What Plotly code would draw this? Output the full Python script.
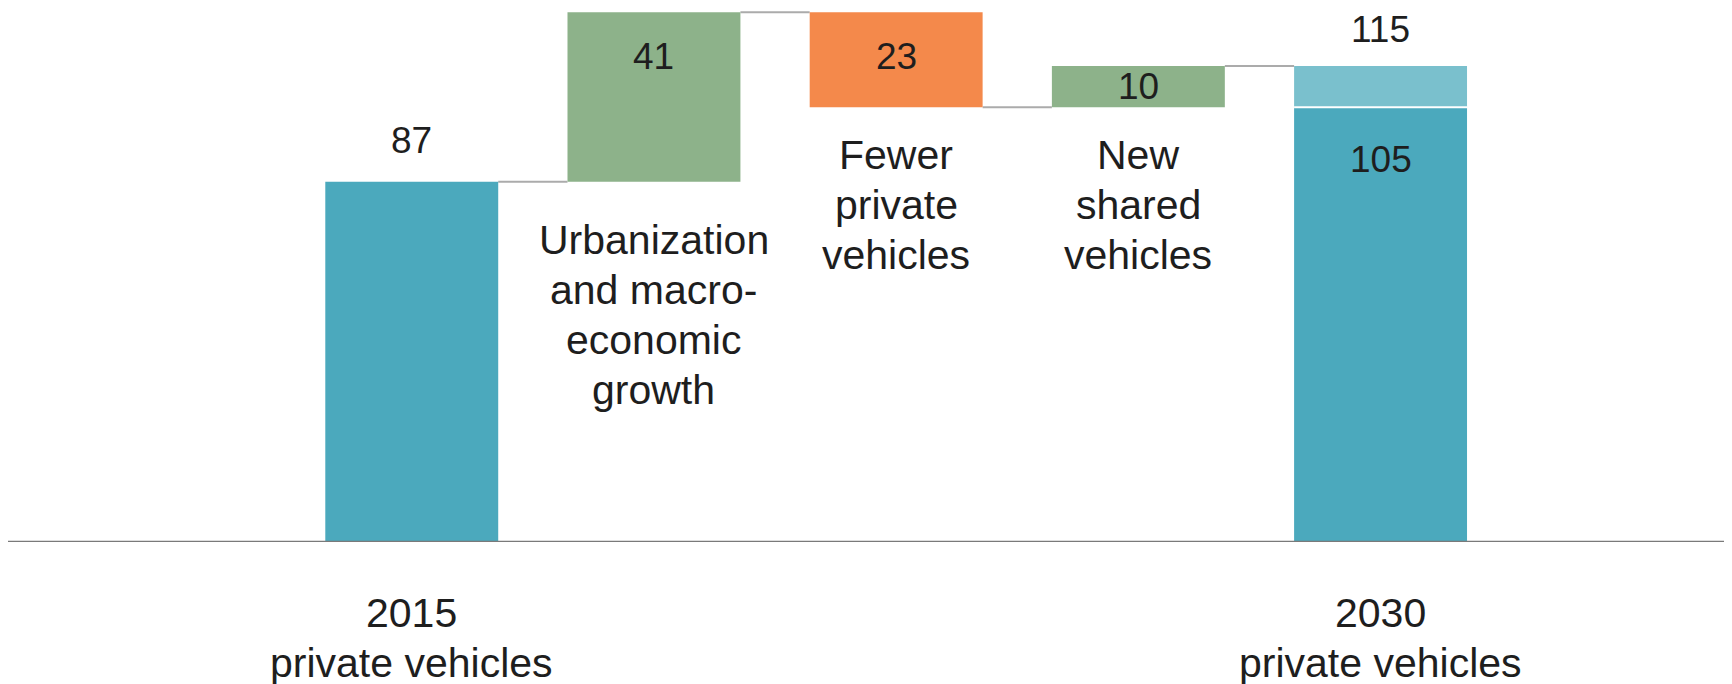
import plotly.graph_objects as go

# ---- data ----
categories = ["2015 private vehicles", "Urbanization and macroeconomic growth",
              "Fewer private vehicles", "New shared vehicles", "2030 private vehicles"]
start_value = 87
delta_values = [41, -23, 10]
end_private = 105
end_total = 115
label_lines = [["2015", "private vehicles"],
               ["Urbanization", "and macro-", "economic", "growth"],
               ["Fewer", "private", "vehicles"],
               ["New", "shared", "vehicles"],
               ["2030", "private vehicles"]]

# ---- style ----
TEAL = "#4BA9BD"
LIGHT_TEAL = "#7AC0CD"
GREEN = "#8DB28A"
ORANGE = "#F4894B"
CONN = "#ABABAB"
TEXT = "#1E1E1E"
FONT = "Liberation Sans, Arial, Helvetica, sans-serif"
BAR_W = 0.714
CAT_FS = 41
VAL_FS = 37
LINE_H = 50

# running totals
levels = [start_value]
for d in delta_values:
    levels.append(levels[-1] + d)
# levels: 87, 128, 105, 115

fig = go.Figure()

# totals (2015 and 2030 private)
fig.add_trace(go.Bar(x=[categories[0], categories[4]], y=[start_value, end_private],
                     base=[0, 0], width=BAR_W, marker=dict(color=TEAL, line=dict(width=0))))
# 2030 shared part
fig.add_trace(go.Bar(x=[categories[4]], y=[end_total - end_private], base=[end_private],
                     width=BAR_W, marker=dict(color=LIGHT_TEAL, line=dict(width=0))))
# deltas
for i, d in enumerate(delta_values):
    lo = min(levels[i], levels[i + 1])
    fig.add_trace(go.Bar(x=[categories[i + 1]], y=[abs(d)], base=[lo], width=BAR_W,
                         marker=dict(color=GREEN if d > 0 else ORANGE, line=dict(width=0))))

shapes = []
# connectors
for i in range(4):
    shapes.append(dict(type="line", xref="x", yref="y",
                       x0=i + BAR_W / 2, x1=i + 1 - BAR_W / 2,
                       y0=levels[i], y1=levels[i],
                       line=dict(color=CONN, width=2), layer="below"))
# white separator in 2030 bar
shapes.append(dict(type="line", xref="x", yref="y", x0=4 - BAR_W / 2, x1=4 + BAR_W / 2,
                   y0=end_private, y1=end_private, line=dict(color="white", width=2)))
# baseline axis
shapes.append(dict(type="line", xref="paper", yref="y", x0=0, x1=1, y0=0, y1=0,
                   line=dict(color="#7A7A7A", width=2.5)))

annotations = []
# value labels
annotations.append(dict(x=categories[0], y=start_value, text=str(start_value),
                        yanchor="bottom", yshift=19, font_size=VAL_FS))
annotations.append(dict(x=categories[1], y=levels[1], text=str(abs(delta_values[0])),
                        yanchor="top", yshift=-22, font_size=VAL_FS))
annotations.append(dict(x=categories[2], y=levels[1], text=str(abs(delta_values[1])),
                        yanchor="top", yshift=-22, font_size=VAL_FS))
annotations.append(dict(x=categories[3], y=(levels[2] + levels[3]) / 2,
                        text=str(abs(delta_values[2])), yanchor="middle", font_size=VAL_FS))
annotations.append(dict(x=categories[4], y=end_total, text=str(end_total),
                        yanchor="bottom", yshift=14, font_size=VAL_FS))
annotations.append(dict(x=categories[4], y=end_private, text=str(end_private),
                        yanchor="top", yshift=-30, font_size=VAL_FS))

# category labels, one annotation per line for exact spacing
label_y = [0, levels[0], levels[2], levels[2], 0]
label_shift = [-46, -33, -23, -23, -46]
for i, lines in enumerate(label_lines):
    for k, line in enumerate(lines):
        annotations.append(dict(x=categories[i], y=label_y[i], text=line,
                                yanchor="top", yshift=label_shift[i] - k * LINE_H,
                                font_size=CAT_FS))

for a in annotations:
    a.update(xref="x", yref="y", showarrow=False, xanchor="center",
             font=dict(family=FONT, size=a.pop("font_size"), color=TEXT))

fig.update_layout(
    width=1724, height=676,
    margin=dict(l=0, r=0, t=0, b=142, pad=0),
    paper_bgcolor="white", plot_bgcolor="white",
    barmode="overlay", showlegend=False, hovermode=False,
    font=dict(family=FONT, color=TEXT),
    xaxis=dict(type="category", categoryorder="array", categoryarray=categories,
               range=[-1.667, 5.451], showticklabels=False,
               showgrid=False, zeroline=False, showline=False, ticks=""),
    yaxis=dict(range=[0, 129.0], visible=False, showgrid=False, zeroline=False),
    shapes=shapes, annotations=annotations,
)

fig.write_html("out.html", config={"displayModeBar": False})
